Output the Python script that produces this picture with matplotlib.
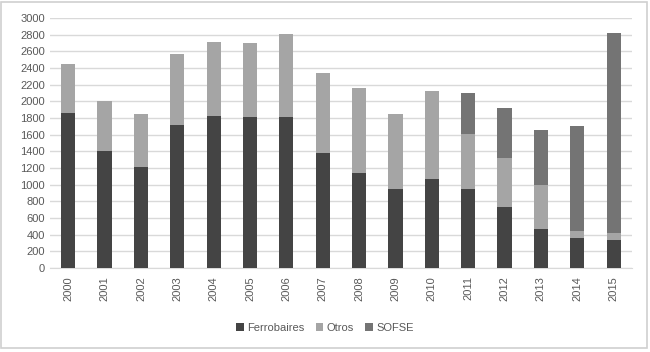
import numpy as np
from matplotlib import pyplot as plt
from matplotlib.patches import Rectangle

years = [str(y) for y in range(2000, 2016)]
ferrobaires = [1860, 1400, 1212, 1720, 1824, 1808, 1816, 1376, 1136, 952, 1064, 944, 732, 464, 364, 332]
otros = [588, 608, 640, 852, 884, 892, 988, 964, 1020, 900, 1056, 668, 588, 532, 80, 84]
sofse = [0, 0, 0, 0, 0, 0, 0, 0, 0, 0, 0, 484, 600, 660, 1264, 2408]

plt.rcParams['font.family'] = ['Liberation Sans', 'DejaVu Sans']
txt = '#595959'

fig = plt.figure(figsize=(6.5, 3.52), dpi=100)
ax = fig.add_axes([0.077, 0.239, 0.895, 0.71])
x = np.arange(len(years))
w = 0.39
f = np.array(ferrobaires)
o = np.array(otros)
s = np.array(sofse)
ax.bar(x, f, w, color='#444444', label='Ferrobaires', zorder=3)
ax.bar(x, o, w, bottom=f, color='#a5a5a5', label='Otros', zorder=3)
ax.bar(x, s, w, bottom=f + o, color='#747474', label='SOFSE', zorder=3)

ax.set_xlim(-0.5, len(years) - 0.5)
ax.set_ylim(0, 3000)
ax.set_yticks(range(0, 3001, 200))
ax.yaxis.grid(True, color='#d9d9d9', linewidth=1, zorder=0)
ax.set_xticks(x)
ax.set_xticklabels(years, rotation=90)
ax.tick_params(axis='both', length=0, labelsize=8, colors=txt)
ax.tick_params(axis='x', pad=6)
for sp in ['top', 'right', 'left']:
    ax.spines[sp].set_visible(False)
ax.spines['bottom'].set_color('#d9d9d9')

fig.legend(loc='center', bbox_to_anchor=(0.5, 0.068), ncol=3, frameon=False,
           fontsize=8, labelcolor=txt, handlelength=0.7, handleheight=0.7,
           handletextpad=0.3, columnspacing=1.0)

fig.patches.append(Rectangle((0.002, 0.01), 0.994, 0.985, transform=fig.transFigure,
                             fill=False, edgecolor='#d0d0d0', linewidth=1.2))
fig.savefig('out.png', dpi=100)
